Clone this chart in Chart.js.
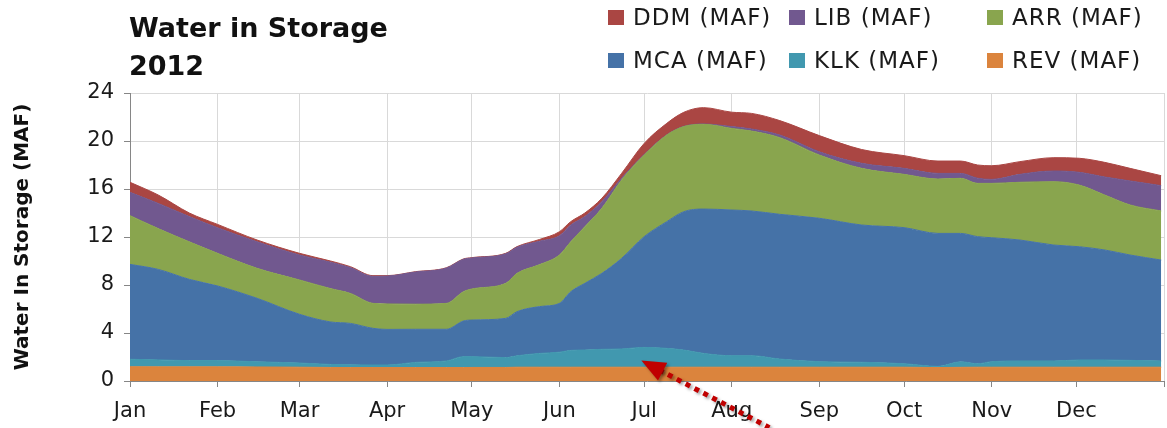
<!DOCTYPE html>
<html>
<head>
<meta charset="utf-8">
<script src="https://cdn.jsdelivr.net/npm/chart.js@4.4.1/dist/chart.umd.min.js"></script>
<style>
  body { margin: 0; background: #fff; }
  #wrap { position: relative; width: 1167px; height: 428px; font-family: "DejaVu Sans", sans-serif; }
  #title { position: absolute; left: 129px; top: 9px; font-weight: bold; font-size: 27px; line-height: 38px; color: #111; }
  #legend { position: absolute; left: 0; top: 0; }
  .lg { position: absolute; font-size: 23px; letter-spacing: 1px; color: #1a1a1a; white-space: nowrap; line-height: 26px; }
  .lg span { display: inline-block; width: 16px; height: 15px; margin-right: 9px; vertical-align: 0px; }
</style>
</head>
<body>
<div id="wrap">
  <canvas id="chart" width="1167" height="428"></canvas>
  <div id="title">Water in Storage<br>2012</div>
  <div id="legend"></div>
</div>
<script>
// ---------- données (jour de l'année, MAF) ----------
const days = [0, 10, 21, 31, 45, 60, 71, 78, 86, 91, 101, 112, 118, 121, 133, 137, 145, 152, 156, 161, 167,
  174, 182, 190, 196, 203, 213, 220, 230, 244, 259, 274, 286, 294, 300, 305, 315, 327, 336, 345, 354, 365];

const rev = [1.19, 1.18, 1.18, 1.18, 1.17, 1.15, 1.13, 1.12, 1.12, 1.12, 1.12, 1.12, 1.12, 1.13, 1.13, 1.15, 1.15, 1.15, 1.15, 1.15, 1.15,
  1.15, 1.15, 1.15, 1.15, 1.15, 1.15, 1.15, 1.15, 1.15, 1.15, 1.15, 1.12, 1.14, 1.15, 1.15, 1.15, 1.15, 1.15, 1.15, 1.15, 1.15];
const klk = [0.62, 0.58, 0.52, 0.52, 0.43, 0.35, 0.25, 0.23, 0.21, 0.21, 0.43, 0.55, 0.91, 0.90, 0.82, 0.95, 1.15, 1.25, 1.40, 1.43, 1.49,
  1.52, 1.65, 1.57, 1.43, 1.15, 0.96, 0.96, 0.68, 0.46, 0.41, 0.29, 0.10, 0.46, 0.29, 0.46, 0.52, 0.52, 0.60, 0.60, 0.57, 0.52];
const mca = [7.91, 7.54, 6.77, 6.22, 5.29, 4.06, 3.54, 3.45, 3.06, 2.97, 2.76, 2.64, 2.97, 3.05, 3.27, 3.68, 3.90, 4.07, 4.89, 5.56, 6.33,
  7.55, 9.23, 10.56, 11.53, 12.03, 12.14, 12.06, 12.06, 11.95, 11.44, 11.34, 11.08, 10.70, 10.59, 10.33, 10.08, 9.66, 9.44, 9.17, 8.78, 8.41];
const arr = [4.06, 3.40, 3.13, 2.72, 2.50, 2.86, 2.78, 2.50, 2.08, 2.12, 2.09, 2.16, 2.44, 2.59, 2.92, 3.19, 3.50, 4.03, 4.16, 4.72, 5.42,
  6.53, 6.80, 7.22, 7.09, 7.06, 6.80, 6.66, 6.39, 5.27, 4.72, 4.44, 4.53, 4.59, 4.44, 4.53, 4.81, 5.28, 5.14, 4.58, 4.17, 4.09];
const lib = [1.94, 2.10, 2.10, 2.13, 2.21, 2.08, 2.20, 2.15, 2.25, 2.32, 2.68, 2.94, 2.70, 2.58, 2.46, 2.18, 1.95, 1.60, 1.40, 0.84, 0.55,
  0.15, 0.05, 0.02, 0.02, 0.03, 0.15, 0.17, 0.22, 0.27, 0.42, 0.50, 0.47, 0.41, 0.43, 0.33, 0.66, 0.89, 1.06, 1.50, 2.00, 2.11];
const ddm = [0.84, 0.70, 0.30, 0.28, 0.15, 0.14, 0.10, 0.08, 0.06, 0.04, 0.03, 0.03, 0.03, 0.03, 0.04, 0.05, 0.15, 0.34, 0.28, 0.30, 0.28,
  0.40, 0.92, 0.95, 1.17, 1.36, 1.20, 1.30, 1.20, 1.35, 1.15, 1.06, 1.03, 1.03, 1.10, 1.14, 1.06, 1.11, 1.17, 1.22, 1.05, 0.83];

const monthStarts = [0, 31, 60, 91, 121, 152, 182, 213, 244, 274, 305, 335, 366];
const monthLabels = ['Jan', 'Feb', 'Mar', 'Apr', 'May', 'Jun', 'Jul', 'Aug', 'Sep', 'Oct', 'Nov', 'Dec', ''];
const yTicks = [0, 4, 8, 12, 16, 20, 24];

// ordre d'empilement : du bas vers le haut
const seriesNames = ['REV (MAF)', 'KLK (MAF)', 'MCA (MAF)', 'ARR (MAF)', 'LIB (MAF)', 'DDM (MAF)'];
const seriesValues = [rev, klk, mca, arr, lib, ddm];
const seriesColors = ['#DB843D', '#4198AF', '#4572A7', '#89A54E', '#71588F', '#AA4643'];

// ordre de la légende (2 lignes x 3 colonnes)
const legendOrder = ['DDM (MAF)', 'LIB (MAF)', 'ARR (MAF)', 'MCA (MAF)', 'KLK (MAF)', 'REV (MAF)'];

// ---------- légende HTML ----------
const legendEl = document.getElementById('legend');
const colX = [608, 789, 987];
const rowY = [4, 47];
legendOrder.forEach((name, i) => {
  const idx = seriesNames.indexOf(name);
  const item = document.createElement('div');
  item.className = 'lg';
  item.style.left = colX[i % 3] + 'px';
  item.style.top = rowY[Math.floor(i / 3)] + 'px';
  item.innerHTML = '<span style="background:' + seriesColors[idx] + '"></span>' + name;
  legendEl.appendChild(item);
});

// ---------- flèche pointillée (annotation) ----------
const arrowPlugin = {
  id: 'arrow',
  afterDraw(chart) {
    const ctx = chart.ctx;
    const tx = chart.scales.x.getPixelForValue(181);
    const ty = chart.scales.y.getPixelForValue(1.7);
    const dx = 128, dy = 67;
    const len = Math.hypot(dx, dy);
    const ux = dx / len, uy = dy / len;
    ctx.save();
    ctx.shadowColor = 'rgba(0,0,0,0.35)';
    ctx.shadowBlur = 3;
    ctx.shadowOffsetX = 2;
    ctx.shadowOffsetY = 2;
    ctx.strokeStyle = '#C00000';
    ctx.lineWidth = 5;
    ctx.setLineDash([5, 5]);
    ctx.beginPath();
    ctx.moveTo(tx + ux * 20, ty + uy * 20);
    ctx.lineTo(tx + dx, ty + dy);
    ctx.stroke();
    // pointe
    const hl = 24, hw = 10;
    ctx.fillStyle = '#C00000';
    ctx.beginPath();
    ctx.moveTo(tx, ty);
    ctx.lineTo(tx + ux * hl - uy * hw, ty + uy * hl + ux * hw);
    ctx.lineTo(tx + ux * hl + uy * hw, ty + uy * hl - ux * hw);
    ctx.closePath();
    ctx.fill();
    ctx.restore();
  }
};

// ---------- graphique ----------
const datasets = seriesNames.map((name, i) => ({
  label: name,
  data: days.map((d, j) => ({ x: d, y: seriesValues[i][j] })),
  backgroundColor: seriesColors[i],
  borderColor: seriesColors[i],
  borderWidth: 1,
  pointRadius: 0,
  fill: i === 0 ? 'origin' : '-1',
  cubicInterpolationMode: 'monotone'
}));

const tickFont = { family: 'DejaVu Sans', size: 21 };

new Chart(document.getElementById('chart'), {
  type: 'line',
  data: { datasets },
  options: {
    responsive: false,
    animation: false,
    layout: { padding: { top: 93, right: 0, left: 0, bottom: 0 } },
    plugins: {
      legend: { display: false },
      tooltip: { enabled: false }
    },
    scales: {
      x: {
        type: 'linear',
        min: 0,
        max: 366,
        grid: { color: '#d9d9d9', tickColor: '#868686', tickLength: 6 },
        border: { color: '#868686' },
        ticks: {
          font: tickFont,
          color: '#1a1a1a',
          padding: 12,
          maxRotation: 0,
          autoSkip: false,
          callback: (v) => monthLabels[monthStarts.indexOf(v)]
        },
        afterBuildTicks: (s) => { s.ticks = monthStarts.map(v => ({ value: v })); },
        afterFit: (s) => { s.height = 47; s.paddingRight = 3; }
      },
      y: {
        stacked: true,
        min: 0,
        max: 24,
        grid: { color: '#d9d9d9', tickColor: '#868686', tickLength: 6 },
        border: { color: '#868686' },
        ticks: { font: tickFont, color: '#1a1a1a', padding: 10 },
        afterBuildTicks: (s) => { s.ticks = yTicks.map(v => ({ value: v })); },
        title: {
          display: true,
          text: 'Water In Storage (MAF)',
          font: { family: 'DejaVu Sans', size: 20, weight: 'bold' },
          color: '#111',
          padding: { top: 11, bottom: 4 }
        },
        afterFit: (s) => { s.width = 130; }
      }
    }
  },
  plugins: [arrowPlugin]
});
</script>
</body>
</html>
